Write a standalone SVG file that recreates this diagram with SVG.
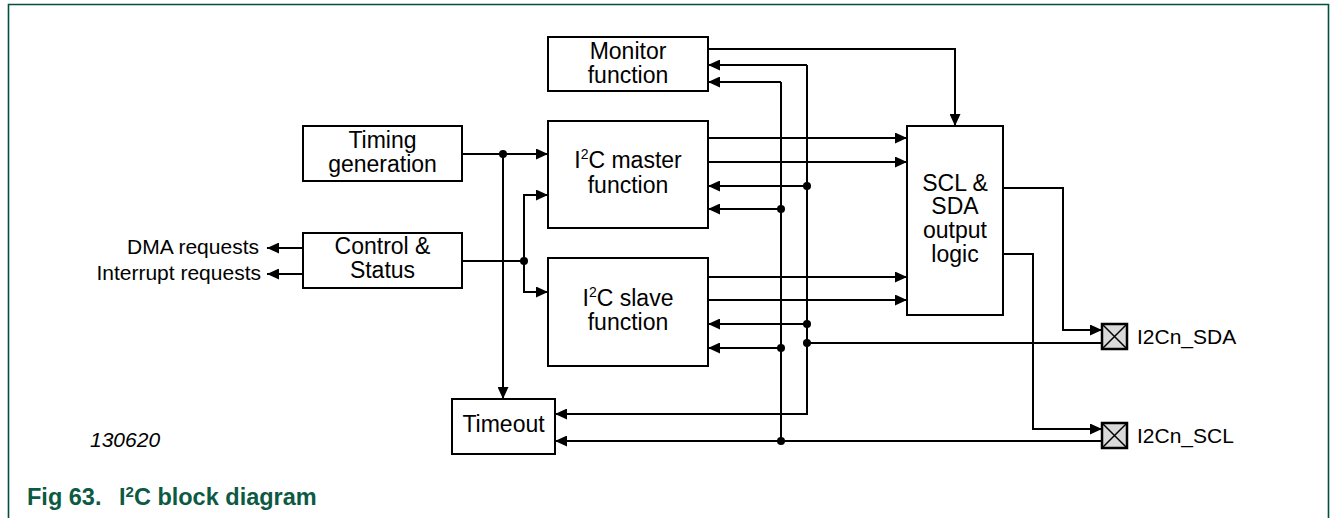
<svg xmlns="http://www.w3.org/2000/svg" width="1330" height="518" viewBox="0 0 1330 518">
<style>
.box{fill:#fff;stroke:#000;stroke-width:2}
.t{font-family:"Liberation Sans",Arial,sans-serif;font-size:23px;fill:#000;text-anchor:middle}
.l{font-family:"Liberation Sans",Arial,sans-serif;font-size:21px;fill:#000}
.w{fill:none;stroke:#000;stroke-width:2}
.a{marker-end:url(#ah)}
.pad{fill:#d9d9d9;stroke:#000;stroke-width:2.5}
.cap{font-family:"Liberation Sans",Arial,sans-serif;font-size:23.5px;font-weight:bold;fill:#0c5a43}
</style>
<defs>
<marker id="ah" markerUnits="userSpaceOnUse" markerWidth="12" markerHeight="11" refX="12" refY="5.5" orient="auto">
<path d="M0,0 L12,5.5 L0,11 z" fill="#000"/>
</marker>
</defs>
<rect width="1330" height="518" fill="#fff"/>
<path d="M8.5,518 V4.5 H1328.5 V518" fill="none" stroke="#00503f" stroke-width="1.6"/>

<g id="connectors">
<path class="w a" d="M708,49 H955 V126"/>
<path class="w a" d="M807,65 H708"/>
<path class="w a" d="M781,82 H708"/>
<path class="w a" d="M807,65 V414 H555"/>
<path class="w" d="M781,82 V441"/>
<path class="w a" d="M708,138 H907"/>
<path class="w a" d="M708,162 H907"/>
<path class="w a" d="M807,186 H708"/>
<path class="w a" d="M781,209 H708"/>
<path class="w a" d="M708,277 H907"/>
<path class="w a" d="M708,300 H907"/>
<path class="w a" d="M807,324 H708"/>
<path class="w a" d="M781,348 H708"/>
<path class="w" d="M807,343 H1102"/>
<path class="w a" d="M1102,441 H555"/>
<path class="w a" d="M1003,188 H1063 V330 H1102"/>
<path class="w a" d="M1003,254 H1033 V429 H1102"/>
<path class="w a" d="M462,154 H548"/>
<path class="w a" d="M503,154 V399"/>
<path class="w" d="M462,261 H524"/>
<path class="w a" d="M524,261 V195 H548"/>
<path class="w a" d="M524,261 V292 H548"/>
<path class="w a" d="M303,248 H267"/>
<path class="w a" d="M303,274 H267"/>
<g fill="#000">
<circle cx="503" cy="154" r="4"/>
<circle cx="524" cy="261" r="4"/>
<circle cx="807" cy="186" r="4"/>
<circle cx="781" cy="209" r="4"/>
<circle cx="807" cy="324" r="4"/>
<circle cx="807" cy="343" r="4"/>
<circle cx="781" cy="348" r="4"/>
<circle cx="781" cy="441" r="4"/>
</g>
</g>

<g id="timing">
<rect class="box" x="303" y="126" width="159" height="55"/>
<text class="t" x="382.5" y="147.5">Timing</text>
<text class="t" x="382.5" y="171.5">generation</text>
</g>
<g id="control">
<rect class="box" x="303" y="233" width="159" height="55"/>
<text class="t" x="382.5" y="254">Control &amp;</text>
<text class="t" x="382.5" y="278">Status</text>
</g>
<g id="monitor">
<rect class="box" x="548" y="37" width="160" height="54"/>
<text class="t" x="628" y="59">Monitor</text>
<text class="t" x="628" y="83">function</text>
</g>
<g id="master">
<rect class="box" x="548" y="121" width="160" height="107"/>
<text class="t" x="628" y="168">I<tspan font-size="14" dy="-9">2</tspan><tspan dy="9">C master</tspan></text>
<text class="t" x="628" y="192.5">function</text>
</g>
<g id="slave">
<rect class="box" x="548" y="258" width="160" height="108"/>
<text class="t" x="628" y="305.5">I<tspan font-size="14" dy="-9">2</tspan><tspan dy="9">C slave</tspan></text>
<text class="t" x="628" y="329.5">function</text>
</g>
<g id="timeout">
<rect class="box" x="452" y="399" width="103" height="55"/>
<text class="t" x="503.5" y="432">Timeout</text>
</g>
<g id="scl-sda-logic">
<rect class="box" x="907" y="126" width="96" height="189"/>
<text class="t" x="955" y="190.5">SCL &amp;</text>
<text class="t" x="955" y="214">SDA</text>
<text class="t" x="955" y="238">output</text>
<text class="t" x="955" y="261.5">logic</text>
</g>
<g id="pad-sda">
<rect class="pad" x="1102" y="324" width="25" height="25"/>
<path d="M1102,324 L1127,349 M1127,324 L1102,349" stroke="#000" stroke-width="1.5"/>
<text class="l" x="1137" y="344">I2Cn_SDA</text>
</g>
<g id="pad-scl">
<rect class="pad" x="1102" y="423" width="25" height="25"/>
<path d="M1102,423 L1127,448 M1127,423 L1102,448" stroke="#000" stroke-width="1.5"/>
<text class="l" x="1137" y="443">I2Cn_SCL</text>
</g>
<g id="labels">
<text class="l" x="259" y="254" text-anchor="end">DMA requests</text>
<text class="l" x="261" y="280" text-anchor="end">Interrupt requests</text>
<text class="l" x="90" y="447" font-style="italic">130620</text>
</g>
<g id="caption">
<text class="cap" x="27" y="505">Fig 63.</text>
<text class="cap" x="119" y="505">I<tspan font-size="15" dy="-8">2</tspan><tspan dy="8">C block diagram</tspan></text>
</g>
</svg>
